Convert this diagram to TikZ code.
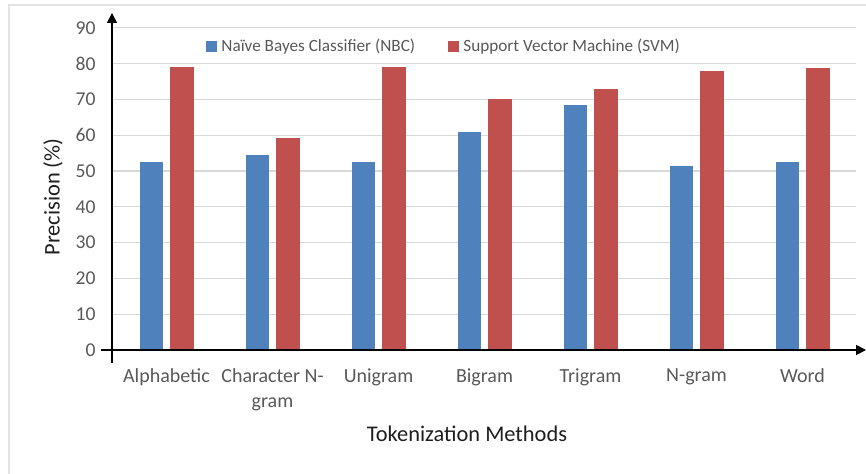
\documentclass[tikz,border=0pt]{standalone}
\usepackage{fontspec}
\setmainfont{Carlito}
\usetikzlibrary{arrows.meta}
\definecolor{nbc}{HTML}{4F81BD}
\definecolor{svm}{HTML}{C0504D}
\definecolor{gridc}{HTML}{D9D9D9}
\definecolor{framec}{HTML}{E3E3E3}
\definecolor{tickc}{HTML}{595959}
\definecolor{titlec}{HTML}{1E1E1E}
\begin{document}
\begin{tikzpicture}[x=0.5pt,y=-0.5pt,
  gridline/.style={gridc,line width=0.6pt},
  axisline/.style={black,line width=0.8pt},
  ticklab/.style={text=tickc,font=\fontsize{9.8pt}{11pt}\selectfont,inner sep=0pt},
  catlab/.style={text=tickc,font=\fontsize{10pt}{12.6pt}\selectfont,inner sep=0pt,align=center},
  leglab/.style={text=tickc,font=\fontsize{8.6pt}{10pt}\selectfont,inner sep=0pt,anchor=west},
  axtitle/.style={text=titlec,font=\fontsize{11.2pt}{13pt}\selectfont,inner sep=0pt}]
\useasboundingbox (0,0) rectangle (866,474);
\fill[white] (0,0) rectangle (866,474);
\draw[framec,line width=0.8pt] (9,474) -- (9,5) -- (866,5);
% gridlines and tick labels
\foreach \v in {10,20,...,90}{
  \draw[gridline] (112,{350-3.58*\v}) -- (856,{350-3.58*\v});
}
\foreach \v in {0,10,...,90}{
  \node[ticklab,anchor=east] (t\v) at (96,{350-3.58*\v}) {\v};
}
% bars
\foreach \i/\a/\b in {0/52.5/79.0,1/54.5/59.2,2/52.5/79.0,3/61.0/70.2,4/68.4/72.9,5/51.5/77.8,6/52.4/78.9}{
  \pgfmathsetmacro\m{166.5+106*\i}
  \fill[nbc] ({\m-26.5},350) rectangle ({\m-3.5},{350-3.58*\a});
  \fill[svm] ({\m+3.5},350) rectangle ({\m+27},{350-3.58*\b});
}
% axes
\coordinate (yb) at (112,363);
\coordinate (yt) at (112,13);
\coordinate (xl) at (101,350);
\coordinate (xr) at (866,350);
\draw[axisline,-{Triangle[length=5pt,width=5pt]}] (yb) -- (yt);
\draw[axisline,-{Triangle[length=5pt,width=5pt]}] (xl) -- (xr);
% category labels
\node[catlab,anchor=north] (c0) at (166.5,368) {Alphabetic};
\node[catlab,anchor=north] (c1) at (272.5,368) {Character N-\\gram};
\node[catlab,anchor=north] (c2) at (378.5,368) {Unigram};
\node[catlab,anchor=north] (c3) at (484.5,368) {Bigram};
\node[catlab,anchor=north] (c4) at (590.5,368) {Trigram};
\node[catlab,anchor=north] (c5) at (696.5,368) {N-gram};
\node[catlab,anchor=north] (c6) at (802.5,368) {Word};
% legend
\fill[nbc] (206,41) rectangle (217,52);
\node[leglab] (l1) at (221,46.5) {Naïve Bayes Classifier (NBC)};
\fill[svm] (448,41) rectangle (459,52);
\node[leglab] (l2) at (463,46.5) {Support Vector Machine (SVM)};
% axis titles
\node[axtitle] (xt) at (467,434) {Tokenization Methods};
\node[axtitle,rotate=90] (ytl) at (53,197) {Precision (\%)};
\end{tikzpicture}
\end{document}
